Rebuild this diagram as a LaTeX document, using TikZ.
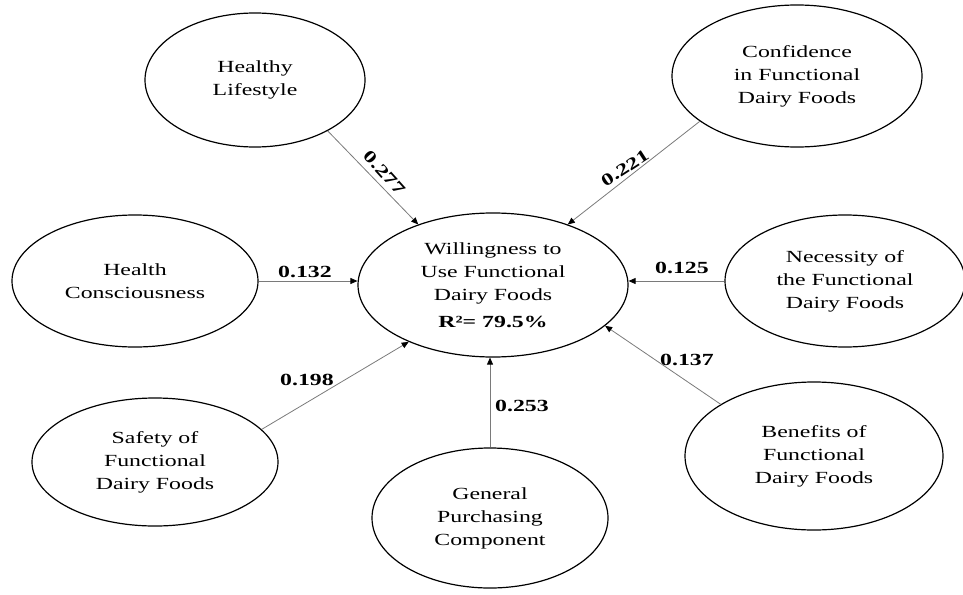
\documentclass[tikz,border=0pt]{standalone}
\usepackage{fontspec}
\setmainfont{Liberation Serif}[FakeStretch=1.4]
\usepackage{tikz}
\usetikzlibrary{shapes.geometric,arrows.meta}
\definecolor{LinkGray}{HTML}{7A7A7A}

\begin{document}
\begin{tikzpicture}[x=1pt,y=-1pt]
  \tikzstyle{construct}=[ellipse,draw=black,line width=1.2pt,inner sep=0pt,
    align=center,font=\fontsize{17}{23}\selectfont]
  \tikzstyle{link}=[-{Triangle[black,length=7pt,width=6pt]},draw=LinkGray,
    line width=0.8pt]
  \tikzstyle{coef}=[inner sep=1pt,font=\bfseries\fontsize{17}{20}\selectfont]
  \useasboundingbox (0,0) rectangle (963,594);
  \node[construct,minimum width=220pt,minimum height=134pt] (hl) at (255,80)
    {Healthy\\Lifestyle};
  \node[construct,minimum width=250pt,minimum height=142pt] (conf) at (797,76)
    {Confidence\\in Functional\\Dairy Foods};
  \node[construct,minimum width=246pt,minimum height=132pt] (hc) at (135,281)
    {Health\\Consciousness};
  \node[construct,minimum width=240pt,minimum height=132pt] (nec) at (845,281)
    {Necessity of\\the Functional\\Dairy Foods};
  \node[construct,minimum width=270pt,minimum height=144pt] (will) at (493,285)
    {Willingness to\\Use Functional\\Dairy Foods\\[4pt]\textbf{R²= 79.5\%}};
  \node[construct,minimum width=246pt,minimum height=128pt] (saf) at (155,462)
    {Safety of\\Functional\\Dairy Foods};
  \node[construct,minimum width=258pt,minimum height=148pt] (ben) at (814,456)
    {Benefits of\\Functional\\Dairy Foods};
  \node[construct,minimum width=236pt,minimum height=140pt] (gpc) at (490,518)
    {General\\Purchasing\\Component};
  \draw[link] (hl.-35)--(will.141);
  \draw[link] (conf.205)--(will.39);
  \draw[link] (hc.east)--(hc.east -| will.west);
  \draw[link] (nec.west)--(nec.west -| will.east);
  \draw[link] (saf.17)--(will.214);
  \draw[link] (gpc.north)--(gpc.north |- will.south);
  \draw[link] (ben.151)--(will.-20);
  \node[coef,rotate=-48] (c277) at (385,173) {0.277};
  \node[coef,rotate=33] (c221) at (625,168) {0.221};
  \node[coef] (c132) at (305,272) {0.132};
  \node[coef] (c125) at (682,268) {0.125};
  \node[coef] (c198) at (307,380) {0.198};
  \node[coef] (c253) at (522,406) {0.253};
  \node[coef] (c137) at (687,360) {0.137};
\end{tikzpicture}
\end{document}
